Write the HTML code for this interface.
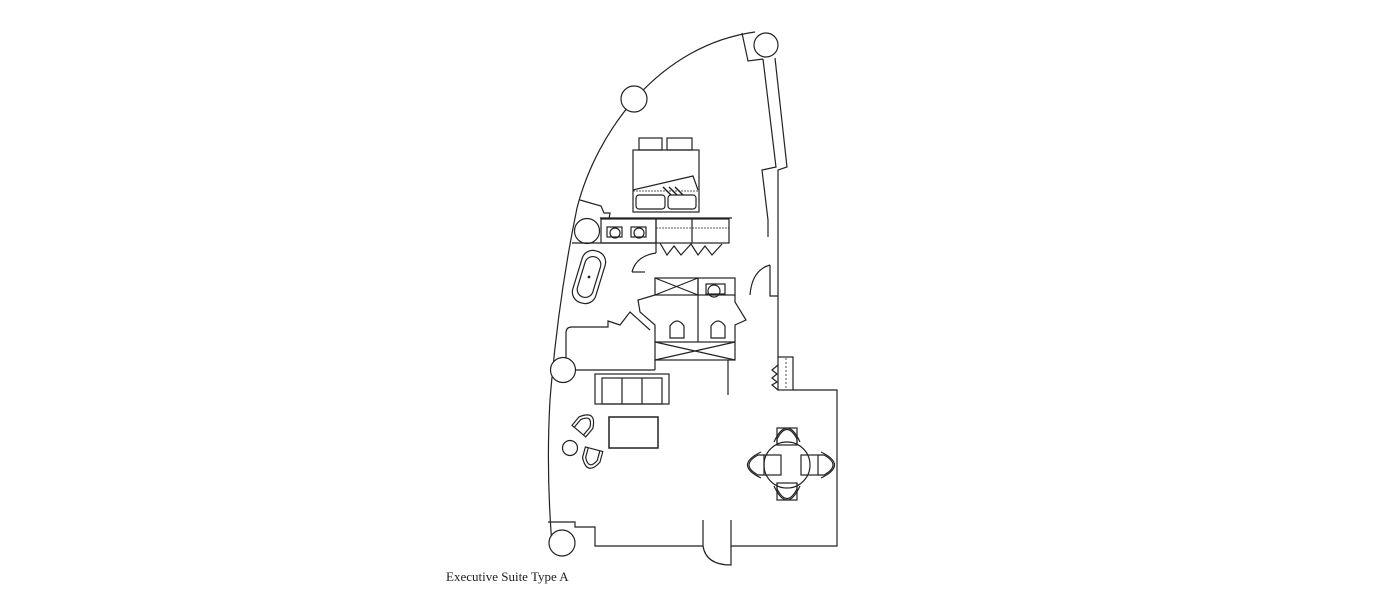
<!DOCTYPE html>
<html><head><style>
html,body{margin:0;padding:0;background:#fff;width:1400px;height:595px;overflow:hidden}
svg{position:absolute;left:0;top:0}
text{font-family:"Liberation Serif",serif;font-size:13px;fill:#222}
</style></head><body>
<svg width="1400" height="595" viewBox="0 0 1400 595" fill="none" stroke="#222" stroke-width="1.2">
<!-- outer curved wall -->
<path d="M577,208 C597,130 660,45 755,32"/>
<path d="M577,208 Q558,300 550,400 Q546,470 552,545"/>
<circle cx="766" cy="45" r="12" fill="#fff"/>
<circle cx="634" cy="99" r="13" fill="#fff"/>
<!-- right wall top -->
<path d="M742,33 L748,61 L763,59"/>
<path d="M763,59 L776,167 L762,170 L768,220"/>
<path d="M775,58 L787,167 L778,170 L778,220"/>
<line x1="778" y1="220" x2="778" y2="357"/>
<line x1="768" y1="220" x2="768" y2="237"/>
<!-- door right mid -->
<path d="M770,265 L770,296 L778,296"/>
<path d="M770,265 Q752,270 750,295"/>
<!-- annex -->
<rect x="778" y="357" width="15" height="33"/>
<line x1="786" y1="358" x2="786" y2="389" stroke-dasharray="2,2" stroke-width="0.8"/>
<path d="M778,365 L772,370 L777,374 L772,378 L777,382 L772,385 L778,390"/>
<path d="M793,390 L837,390 L837,546 L731,546 L731,520"/>
<path d="M703,520 L703,546 L595,546 L595,527 L575,527 L575,522 L548,522"/>
<path d="M703,546 Q706,565 731,565 L731,546"/>
<circle cx="562" cy="543" r="13" fill="#fff"/>
<!-- top-left bracket near bath -->
<path d="M580,200 L601,206 L604,213 L610,213 L609,219"/>
<!-- bed -->
<rect x="639" y="138" width="23" height="12"/>
<rect x="667" y="138" width="25" height="12"/>
<rect x="633" y="150" width="66" height="62"/>
<path d="M633,190 L693,176 L698,190"/>
<line x1="633" y1="191" x2="698" y2="191" stroke-dasharray="2,1" stroke-width="0.8"/>
<rect x="636" y="195" width="29" height="14" rx="3"/>
<rect x="668" y="195" width="28" height="14" rx="3"/>
<path d="M663,187 l8,8 M669,187 l8,8 M675,187 l8,8" stroke-width="1.5"/>
<line x1="600" y1="218" x2="732" y2="218"/>
<!-- vanity -->
<circle cx="587" cy="231" r="12.5" fill="#fff"/>
<rect x="601" y="219" width="55" height="24"/>
<circle cx="615" cy="233" r="5"/><circle cx="639" cy="233" r="5"/>
<rect x="607" y="227" width="15" height="10"/><rect x="631" y="227" width="15" height="10"/>
<!-- wardrobe -->
<rect x="656" y="219" width="73" height="24"/>
<line x1="692" y1="219" x2="692" y2="243"/>
<line x1="656" y1="228" x2="729" y2="228" stroke-dasharray="2,1" stroke-width="0.8"/>
<path d="M660,243 L667,255 L674,246 L681,255 L691,244 L698,255 L705,246 L712,255 L722,244"/>
<!-- bath wall & door -->
<path d="M572,243 L656,243 L656,253"/>
<path d="M632,272 Q636,256 656,253"/>
<line x1="632" y1="272" x2="645" y2="272"/>
<!-- bathtub -->
<g transform="rotate(17 589 277)">
<rect x="577" y="250" width="24" height="54" rx="11"/>
<rect x="581" y="256" width="16" height="42" rx="8"/>
<circle cx="589" cy="277" r="0.8" fill="#222"/>
</g>
<!-- lower bath wall -->
<path d="M650,330 L630,312 L620,325 L608,321 L608,327 L572,327 Q566,327 566,333 L566,358"/>
<circle cx="563" cy="370" r="12.5" fill="#fff"/>
<line x1="575" y1="370" x2="655" y2="370"/>
<!-- WC block -->
<rect x="655" y="278" width="43" height="17"/>
<path d="M655,278 L698,295 M698,278 L655,295"/>
<rect x="698" y="278" width="37" height="17"/>
<circle cx="714" cy="291" r="6"/><rect x="706" y="284" width="19" height="10"/>
<line x1="698" y1="295" x2="698" y2="342"/>
<path d="M735,295 L735,302 L746,320 L735,325 L735,342"/>
<path d="M655,295 L638,300 L640,312 L655,325 L655,342"/>
<path d="M670,338 L670,326 Q677,316 684,326 L684,338 Z"/>
<path d="M711,338 L711,326 Q718,316 725,326 L725,338 Z"/>
<rect x="655" y="342" width="80" height="18"/>
<path d="M655,342 L735,360 M735,342 L655,360"/>
<line x1="655" y1="360" x2="655" y2="370"/>
<line x1="728" y1="360" x2="728" y2="395"/>
<!-- sofa -->
<rect x="595" y="374" width="74" height="30"/>
<rect x="602" y="378" width="60" height="26"/>
<line x1="622" y1="378" x2="622" y2="404"/><line x1="642" y1="378" x2="642" y2="404"/>
<!-- coffee table -->
<rect x="609" y="417" width="49" height="31" stroke-width="1.5"/>
<!-- chairs -->
<g transform="rotate(40 584 425)"><path d="M575,433 L575,422 Q584,405 593,422 L593,433 Z"/><path d="M578,433 L578,423 Q584,411 590,423 L590,433"/></g>
<circle cx="570" cy="448" r="7.5"/>
<g transform="rotate(195 592 457)"><path d="M583,465 L583,454 Q592,437 601,454 L601,465 Z"/><path d="M586,465 L586,455 Q592,443 598,455 L598,465"/></g>
<!-- dining -->
<circle cx="787" cy="465" r="23"/>
<rect x="777" y="428" width="20" height="17"/><path d="M777,445 L777,439 Q787,420 797,439 L797,445"/><path d="M774,442 Q787,414 800,442"/>
<rect x="777" y="483" width="20" height="17"/><path d="M777,483 L777,489 Q787,508 797,489 L797,483"/><path d="M774,486 Q787,514 800,486"/>
<rect x="764" y="455" width="17" height="20"/><path d="M764,455 L758,455 Q740,465 758,475 L764,475"/><path d="M761,452 Q734,465 761,478"/>
<rect x="801" y="455" width="17" height="20"/><path d="M818,455 L824,455 Q842,465 824,475 L818,475"/><path d="M821,452 Q848,465 821,478"/>
</svg>
<svg width="1400" height="595"><text x="446" y="581">Executive Suite Type A</text></svg>
</body></html>
